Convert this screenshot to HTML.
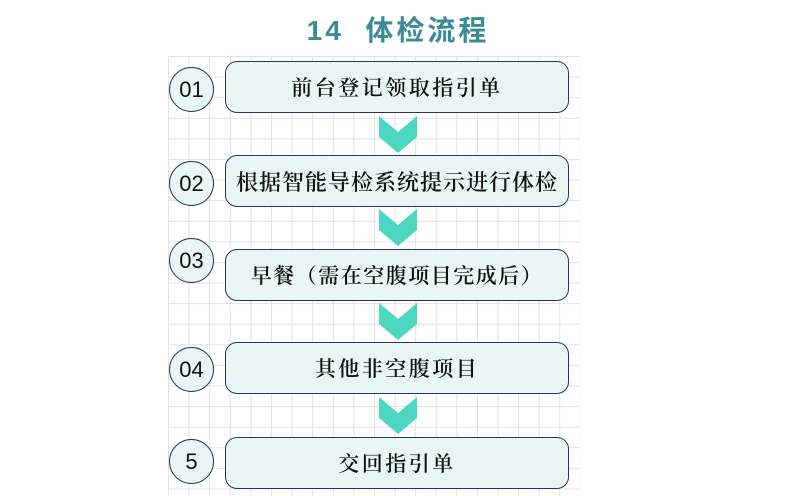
<!DOCTYPE html>
<html><head><meta charset="utf-8"><style>
body{margin:0;width:796px;height:496px;background:#fff;position:relative;overflow:hidden;font-family:"Liberation Sans","Noto Sans CJK SC",sans-serif}
.grid{position:absolute;left:168px;top:56px;width:412px;height:440px;
background-image:linear-gradient(#e2e2e2 1px,transparent 1px),linear-gradient(90deg,#e2e2e2 1px,transparent 1px);background-size:20.6px 20.6px}
.title{position:absolute;left:0;width:796px;top:9px;text-align:center;font-size:28px;font-weight:bold;color:#3a8b95;letter-spacing:3px}
.box{position:absolute;left:225px;width:344px;height:52px;border:1.5px solid #2c3450;border-radius:12px;background:#e8f7f4;font-family:"Noto Serif CJK SC","Noto Sans CJK SC",serif;font-weight:600;font-size:21px;letter-spacing:2.5px;color:#111;display:flex;align-items:center;justify-content:center;box-sizing:border-box}
.c{position:absolute;left:169px;width:45px;height:45px;border:1.5px solid #2c3450;border-radius:50%;background:#e8f7f4;box-sizing:border-box;display:flex;align-items:center;justify-content:center;font-size:22px;color:#111}
svg{position:absolute;left:0;top:0}
</style></head><body>
<div class="grid"></div>
<div class="title">14&nbsp; 体检流程</div>
<svg width="796" height="496"><g fill="#4dd6c0">
<polygon points="379,116 398,132 417,116 417,137 398,153 379,137"/>
<polygon points="379,209 398,225 417,209 417,230 398,246 379,230"/>
<polygon points="379,303 398,319 417,303 417,324 398,340 379,324"/>
<polygon points="379,397 398,413 417,397 417,418 398,434 379,418"/>
</g></svg>
<div class="c" style="top:67px">01</div>
<div class="box" style="top:61px">前台登记领取指引单</div>
<div class="c" style="top:161px">02</div>
<div class="box" style="top:155px;letter-spacing:1px;font-size:22px">根据智能导检系统提示进行体检</div>
<div class="c" style="top:238px">03</div>
<div class="box" style="top:249px;letter-spacing:1.5px">早餐（需在空腹项目完成后）</div>
<div class="c" style="top:347px">04</div>
<div class="box" style="top:342px">其他非空腹项目</div>
<div class="c" style="top:439px">5</div>
<div class="box" style="top:437px">交回指引单</div>
</body></html>
